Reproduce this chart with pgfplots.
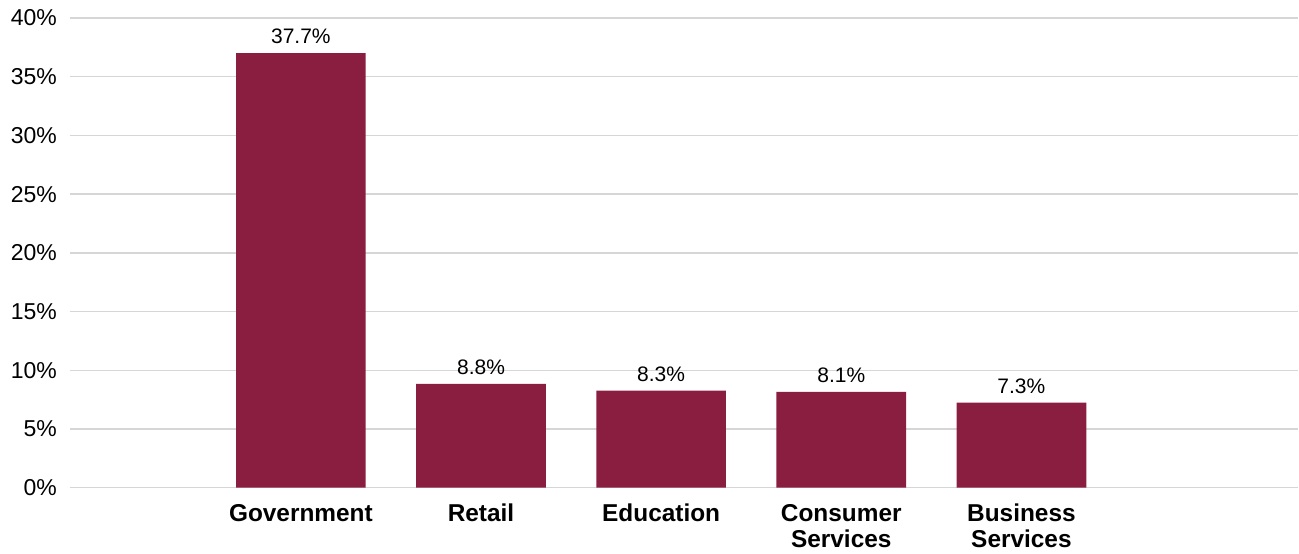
\documentclass[border=0pt]{standalone}
\usepackage{pgfplots}
\pgfplotsset{compat=1.18}
\usepackage{fontspec}
\setmainfont{Liberation Sans}
\definecolor{barred}{HTML}{8A1E41}
\definecolor{gridgray}{HTML}{D6D6D6}
\begin{document}
\begin{tikzpicture}
\begin{axis}[
  scale only axis,
  width=614.5pt, height=235pt,
  xmin=-1.282, xmax=5.537,
  ymin=0, ymax=40,
  axis line style={draw=none},
  ymajorgrids,
  grid style={draw=gridgray, line width=0.75pt},
  ytick={0,5,...,40},
  yticklabel={\pgfmathprintnumber{\tick}\%},
  /pgf/number format/assume math mode=true,
  yticklabel style={font=\fontsize{11.5}{13}\selectfont, xshift=-3pt},
  xtick=data,
  xticklabels={Government,Retail,Education,Consumer\\Services,Business\\Services},
  xticklabel style={font=\fontsize{12.2}{13}\selectfont\bfseries, align=center, yshift=-7pt, inner sep=1pt},
  major tick length=0pt,
  tick style={draw=none},
  xtick pos=bottom, ytick pos=left,
  clip=false,
]
\addplot[ybar, bar width=0.72, fill=barred, draw=none,
  point meta=explicit symbolic,
  nodes near coords,
  nodes near coords style={font=\fontsize{10.5}{12}\selectfont, black, yshift=1pt}]
  table[meta=label] {
x y label
0 37.0 37.7\%
1 8.85 8.8\%
2 8.27 8.3\%
3 8.17 8.1\%
4 7.25 7.3\%
};
\end{axis}
\path (-35pt,-33pt) rectangle (614.5pt,244pt);
\end{tikzpicture}
\end{document}
